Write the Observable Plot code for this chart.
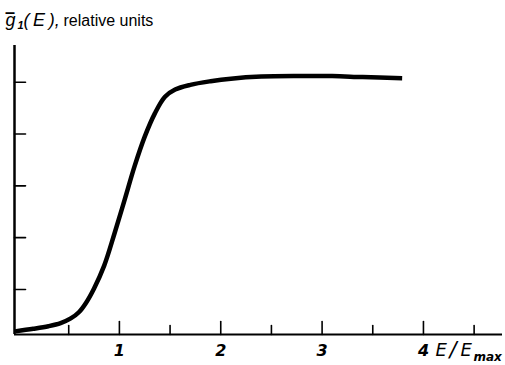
<!DOCTYPE html>
<html><head><meta charset="utf-8">
<script src="https://cdn.jsdelivr.net/npm/d3@7"></script>
<script src="https://cdn.jsdelivr.net/npm/@observablehq/plot@0.6"></script>
<style>body{margin:0;background:#fff}</style>
</head><body><div id="chart"></div>
<script>
// E / E_max values and relative g1(E) values
const energy = [-0.03, 0.15, 0.3, 0.42, 0.52, 0.6, 0.67, 0.75, 0.85, 0.95, 1.05, 1.15, 1.25, 1.35, 1.45, 1.55, 1.7, 1.9, 2.1, 2.4, 2.8, 3.1, 3.4, 3.79];
const g1 = [0.19, 0.24, 0.29, 0.35, 0.44, 0.56, 0.74, 1.02, 1.46, 2.07, 2.72, 3.38, 3.95, 4.4, 4.72, 4.86, 4.95, 5.02, 5.07, 5.11, 5.12, 5.12, 5.10, 5.08];
const majorTicksX = [1, 2, 3, 4];
const minorTicksX = [0.5, 1.5, 2.5, 3.5, 4.5];
const xTickLabels = ["1", "2", "3", "4"];
const ticksY = [1, 2, 3, 4, 5];
const xDomain = [-0.035, 4.78];
const yDomain = [0.13, 5.71];

const curve = energy.map((e, i) => ({e, g: g1[i]}));
const tickShape = {draw(context, l) { context.moveTo(0, 0); context.lineTo(0, -l); }};
const titleFont = "Liberation Sans";
const italicFont = "DejaVu Sans";

const chart = Plot.plot({
  width: 505,
  height: 365,
  marginLeft: 14,
  marginRight: 3,
  marginTop: 45,
  marginBottom: 31,
  x: {domain: xDomain, axis: null},
  y: {domain: yDomain, axis: null},
  style: {background: "#fff", color: "#000"},
  marks: [
    Plot.ruleY([yDomain[0]], {stroke: "#000", strokeWidth: 2}),
    Plot.ruleX([xDomain[0]], {stroke: "#000", strokeWidth: 2.5}),
    Plot.vector(majorTicksX, {x: d => d, y: yDomain[0], length: 13, rotate: 0, anchor: "start", shape: tickShape, stroke: "#000", strokeWidth: 1.6}),
    Plot.vector(minorTicksX, {x: d => d, y: yDomain[0], length: 9, rotate: 0, anchor: "start", shape: tickShape, stroke: "#000", strokeWidth: 1.6}),
    Plot.vector(ticksY, {x: xDomain[0], y: d => d, length: 11, rotate: 90, anchor: "start", shape: tickShape, stroke: "#000", strokeWidth: 1.6}),
    Plot.line(curve, {x: "e", y: "g", curve: "catmull-rom", stroke: "#000", strokeWidth: 4.5, strokeLinecap: "butt"}),
    Plot.text(majorTicksX, {x: d => d, frameAnchor: "bottom", text: (d, i) => xTickLabels[i], dy: 21, lineAnchor: "bottom", fontSize: 16, fontStyle: "italic", fontWeight: "bold", fontFamily: italicFont}),
    // x-axis name E/E_max
    Plot.text(["E"], {frameAnchor: "bottom-left", dx: 421, dy: 21, textAnchor: "start", lineAnchor: "bottom", fontSize: 18, fontStyle: "italic", fontFamily: italicFont}),
    Plot.text(["/"], {frameAnchor: "bottom-left", dx: 435, dy: 22, textAnchor: "start", lineAnchor: "bottom", fontSize: 21, fontStyle: "italic", fontFamily: italicFont}),
    Plot.text(["E"], {frameAnchor: "bottom-left", dx: 446, dy: 21, textAnchor: "start", lineAnchor: "bottom", fontSize: 18, fontStyle: "italic", fontFamily: italicFont}),
    Plot.text(["max"], {frameAnchor: "bottom-left", dx: 459, dy: 26, textAnchor: "start", lineAnchor: "bottom", fontSize: 12, fontStyle: "italic", fontWeight: "bold", fontFamily: italicFont}),
    // y title: g-bar subscript 1 (E), relative units
    Plot.text(["g"], {frameAnchor: "top-left", dx: -9, dy: -20, textAnchor: "start", lineAnchor: "bottom", fontSize: 18, fontStyle: "italic", fontFamily: titleFont}),
    Plot.text(["\u203E"], {frameAnchor: "top-left", dx: -9, dy: -20, textAnchor: "start", lineAnchor: "bottom", fontSize: 18, fontWeight: "bold", fontFamily: italicFont}),
    Plot.text(["1"], {frameAnchor: "top-left", dx: 3, dy: -17, textAnchor: "start", lineAnchor: "bottom", fontSize: 11, fontStyle: "italic", fontWeight: "bold", fontFamily: titleFont}),
    Plot.text(["(\u2009E\u2009),"], {frameAnchor: "top-left", dx: 9, dy: -20, textAnchor: "start", lineAnchor: "bottom", fontSize: 18, fontStyle: "italic", fontFamily: titleFont}),
    Plot.text(["relative units"], {frameAnchor: "top-left", dx: 49, dy: -20, textAnchor: "start", lineAnchor: "bottom", fontSize: 16, fontFamily: titleFont})
  ]
});
document.getElementById("chart").append(chart);
</script>
</body></html>
